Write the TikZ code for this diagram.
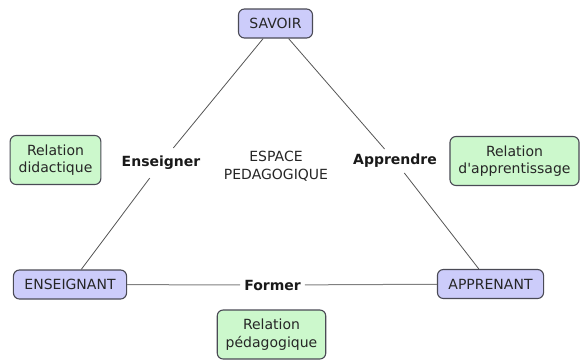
\documentclass[tikz,border=0pt]{standalone}
\usepackage{fontspec}
\setmainfont{DejaVu Sans}
\usetikzlibrary{positioning}

\definecolor{poleblue}{HTML}{CCCCFA}
\definecolor{relgreen}{HTML}{CCF8CC}
\definecolor{boxline}{HTML}{4A4A55}
\definecolor{edgeline}{HTML}{555555}

\begin{document}
\begin{tikzpicture}[
					x=1pt, y=-1pt,
					font=\fontsize{14}{17.5}\selectfont,
					pole/.style={draw=boxline, line width=1.1pt, fill=poleblue, rounded corners=6pt,
						inner xsep=11pt, minimum height=29pt, text=black!85},
					relation/.style={draw=boxline, line width=1.1pt, fill=relgreen, rounded corners=6pt,
						inner xsep=8.5pt, minimum height=49pt, align=center, text=black!85},
					verb/.style={font=\fontsize{14}{17.5}\selectfont\bfseries, inner sep=5pt, text=black!90},
					edge/.style={draw=edgeline, line width=0.8pt}]
					\useasboundingbox (0,0) rectangle (580,359);
					% poles of the triangle
					\node[pole] (savoir) at (275.5,23.5) {SAVOIR};
					\node[pole] (enseignant) at (70,284.5) {ENSEIGNANT};
					\node[pole] (apprenant) at (490.5,284) {APPRENANT};
					% relations
					\node[relation] (didactique) at (55.5,160) {Relation\\didactique};
					\node[relation] (apprentissage) at (514.5,161) {Relation\\d\textquotesingle apprentissage};
					\node[relation] (pedagogique) at (271.5,334.5) {Relation\\pédagogique};
					% verbs on the sides
					\node[verb, inner ysep=8pt] (enseigner) at (161,163) {Enseigner};
					\node[verb] (apprendre) at (395,161) {Apprendre};
					\node[verb, inner xsep=4pt] (former) at (272.5,285) {Former};
					\node[align=center, text=black!85] (espace) at (276,166) {ESPACE\\PEDAGOGIQUE};
					\draw[edge] (savoir) -- (enseigner) -- (enseignant);
					\draw[edge] (savoir) -- (apprendre) -- (apprenant);
					\draw[edge, draw=gray, line width=1pt] (enseignant) -- (former) -- (apprenant);
				\end{tikzpicture}
\end{document}
